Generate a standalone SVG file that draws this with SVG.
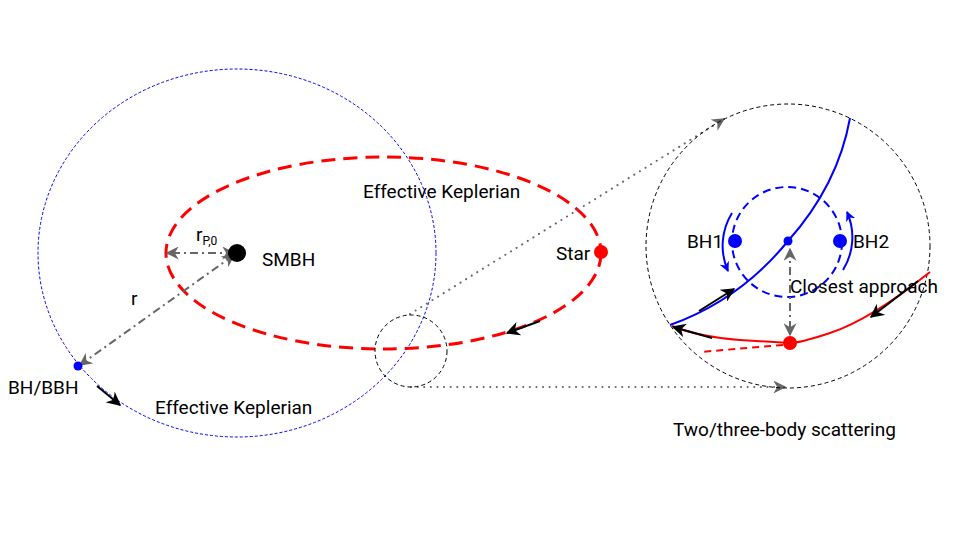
<svg xmlns="http://www.w3.org/2000/svg" width="960" height="540" viewBox="0 0 960 540">
<style>
text{font-family:Roboto,"Liberation Sans",sans-serif;font-size:19px;fill:#000}
.dd{stroke:#666;stroke-width:2;fill:none;stroke-dasharray:8 4 2 4}
.dot{stroke:#666;stroke-width:2;fill:none;stroke-dasharray:0.1 6.5;stroke-linecap:round}
.blk{stroke:#000;stroke-width:2;fill:none}
.bc{stroke:#000;stroke-width:1;fill:none;stroke-dasharray:4 3}
</style>
<defs>
<marker id="ab" viewBox="0 0 10 10" refX="9" refY="5" markerWidth="14" markerHeight="14" orient="auto-start-reverse" markerUnits="userSpaceOnUse"><path d="M0,0 L10,5 L0,10 L3,5 z" fill="#000"/></marker>
<marker id="ag" viewBox="0 0 10 10" refX="9" refY="5" markerWidth="13" markerHeight="13" orient="auto-start-reverse" markerUnits="userSpaceOnUse"><path d="M0,0 L10,5 L0,10 L3,5 z" fill="#666"/></marker>
<marker id="au" viewBox="0 0 10 10" refX="9" refY="5" markerWidth="10" markerHeight="10" orient="auto-start-reverse" markerUnits="userSpaceOnUse"><path d="M0,0 L10,5 L0,10 L3,5 z" fill="#00f"/></marker>
</defs>
<g id="orbits">
<ellipse cx="237" cy="253" rx="199" ry="184" fill="none" stroke="#00f" stroke-width="1" stroke-dasharray="3 2"/>
<ellipse cx="383.5" cy="253" rx="217.5" ry="96" fill="none" stroke="#f00" stroke-width="3" stroke-dasharray="14 8"/>
</g>
<g id="connectors">
<line class="dd" x1="234" y1="253" x2="167" y2="253" marker-start="url(#ag)" marker-end="url(#ag)"/>
<line class="dd" x1="80" y1="365" x2="234" y2="255" marker-start="url(#ag)" marker-end="url(#ag)"/>
<line class="blk" x1="97" y1="386" x2="120" y2="405" marker-end="url(#ab)"/>
<line class="blk" x1="540" y1="321" x2="507" y2="333" marker-end="url(#ab)"/>
<line class="dot" x1="410" y1="314" x2="724" y2="119" marker-end="url(#ag)"/>
<line class="dot" x1="411" y1="387" x2="785" y2="387" marker-end="url(#ag)"/>
</g>
<g id="smbh"><circle cx="237" cy="253" r="9" fill="#000"/><text x="262" y="266">SMBH</text></g>
<g id="star"><circle cx="601" cy="252" r="7" fill="#f00"/><text x="556" y="260">Star</text></g>
<g id="bh"><circle cx="78" cy="366" r="4.5" fill="#00f"/><text x="8" y="394">BH/BBH</text></g>
<g id="labels">
<text x="131" y="305">r</text>
<text x="196" y="241">r<tspan font-size="12" dy="4">P,0</tspan></text>
<text x="363" y="198">Effective Keplerian</text>
<text x="155" y="414">Effective Keplerian</text>
<text x="673" y="436">Two/three-body scattering</text>
</g>
<g id="zoom-small"><circle class="bc" cx="411" cy="351" r="36"/></g>
<g id="zoom-big">
<circle class="bc" cx="788" cy="246" r="142"/>
<circle cx="787" cy="242" r="55" fill="none" stroke="#00f" stroke-width="2" stroke-dasharray="8 5"/>
<path d="M670,325 Q740,300 788,241 Q838,185 850,118" fill="none" stroke="#00f" stroke-width="2"/>
<path d="M930,272 Q870,320 830,333 Q800,343 790,343 L740,340 Q700,337 672,326" fill="none" stroke="#f00" stroke-width="2"/>
<line x1="783" y1="345" x2="700" y2="352" stroke="#f00" stroke-width="2" stroke-dasharray="7 5"/>
<path d="M732,213 A62,62 0 0 0 728,271" fill="none" stroke="#00f" stroke-width="2" marker-end="url(#au)"/>
<path d="M843,270 A62,62 0 0 0 847,212" fill="none" stroke="#00f" stroke-width="2" marker-end="url(#au)"/>
<line class="dd" x1="790" y1="249" x2="790" y2="335" stroke-width="1.5" marker-start="url(#ag)" marker-end="url(#ag)"/>
<line class="blk" x1="699" y1="311" x2="734" y2="289" marker-end="url(#ab)"/>
<line class="blk" x1="918" y1="281" x2="871" y2="317" marker-end="url(#ab)"/>
<line class="blk" x1="712" y1="338" x2="673" y2="327" marker-end="url(#ab)"/>
</g>
<g id="bh1"><circle cx="735" cy="241" r="7" fill="#00f"/><text x="687" y="248">BH1</text></g>
<g id="bh2"><circle cx="840" cy="241" r="7" fill="#00f"/><text x="853" y="248">BH2</text></g>
<g id="com"><circle cx="788" cy="241" r="4.5" fill="#00f"/></g>
<g id="closest"><circle cx="790" cy="343" r="7" fill="#f00"/><text x="790" y="293">Closest approach</text></g>
</svg>
